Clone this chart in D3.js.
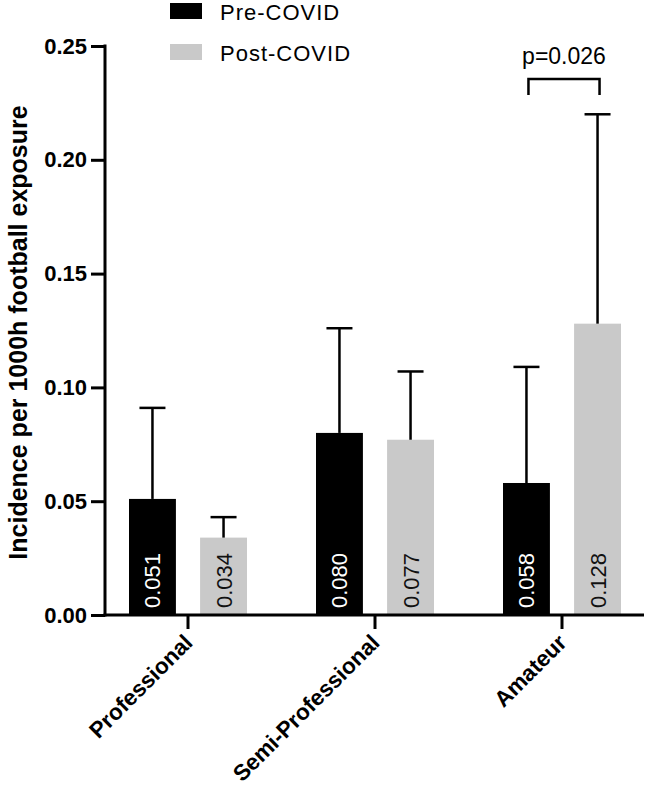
<!DOCTYPE html>
<html>
<head>
<meta charset="utf-8">
<script src="https://cdn.jsdelivr.net/npm/d3@7"></script>
<style>
  html, body { margin: 0; padding: 0; background: #fff; }
  svg { display: block; font-family: "Liberation Sans", Arial, Helvetica, sans-serif; }
</style>
</head>
<body>
<svg id="chart" width="646" height="787"></svg>
<script>
// ---- data ----
const categories = ["Professional", "Semi-Professional", "Amateur"];
const seriesNames = ["Pre-COVID", "Post-COVID"];
const preValues = [0.051, 0.080, 0.058];
const postValues = [0.034, 0.077, 0.128];
const preUpper = [0.091, 0.126, 0.109];
const postUpper = [0.043, 0.107, 0.220];
const valueLabels = [["0.051", "0.034"], ["0.080", "0.077"], ["0.058", "0.128"]];
const yTicks = [0, 0.05, 0.10, 0.15, 0.20, 0.25];
const pValueText = "p=0.026";
const yTitle = "Incidence per 1000h football exposure";

const colors = { "Pre-COVID": "#000000", "Post-COVID": "#c9c9c9" };
const labelColors = { "Pre-COVID": "#ffffff", "Post-COVID": "#111111" };

const rows = [];
categories.forEach((c, i) => {
  rows.push({ cat: c, series: "Pre-COVID", value: preValues[i], upper: preUpper[i], label: valueLabels[i][0] });
  rows.push({ cat: c, series: "Post-COVID", value: postValues[i], upper: postUpper[i], label: valueLabels[i][1] });
});

const svg = d3.select("#chart");
const axisX = 105, baseY = 615, topY = 46, rightX = 644;

const y = d3.scaleLinear().domain([0, 0.25]).range([baseY, topY]);
const x0 = d3.scaleBand().domain(categories).range([94.5, 655.5]).padding(0);
const x1 = d3.scaleBand().domain(seriesNames).range([34.5, 152.5]).paddingInner(0.34).paddingOuter(0);

const g = svg.append("g");

// bars
g.selectAll("rect.bar").data(rows).join("rect")
  .attr("class", "bar")
  .attr("x", d => x0(d.cat) + x1(d.series))
  .attr("width", x1.bandwidth())
  .attr("y", d => y(d.value))
  .attr("height", d => y(0) - y(d.value))
  .attr("fill", d => colors[d.series]);

// error bars (upper only)
const cx = d => x0(d.cat) + x1(d.series) + x1.bandwidth() / 2;
g.selectAll("line.err").data(rows).join("line")
  .attr("x1", cx).attr("x2", cx)
  .attr("y1", d => y(d.value)).attr("y2", d => y(d.upper))
  .attr("stroke", "#000").attr("stroke-width", 2.5);
g.selectAll("line.cap").data(rows).join("line")
  .attr("x1", d => cx(d) - 13).attr("x2", d => cx(d) + 13)
  .attr("y1", d => y(d.upper)).attr("y2", d => y(d.upper))
  .attr("stroke", "#000").attr("stroke-width", 2.5);

// value labels inside bars
g.selectAll("text.val").data(rows).join("text")
  .attr("transform", d => `translate(${cx(d) + 8},${baseY - 7}) rotate(-90)`)
  .attr("text-anchor", "start")
  .attr("font-size", 22)
  .attr("fill", d => labelColors[d.series])
  .text(d => d.label);

// y axis
const yAxis = d3.axisLeft(y).tickValues(yTicks).tickFormat(d3.format(".2f")).tickSize(14).tickSizeOuter(0).tickPadding(4);
const ya = svg.append("g").attr("transform", `translate(${axisX},0)`).call(yAxis);
ya.select(".domain").remove();
ya.selectAll(".tick line").attr("stroke", "#000").attr("stroke-width", 3);
ya.selectAll(".tick text").attr("font-size", 22).attr("font-weight", "bold").attr("fill", "#000")
  .attr("font-family", "'Liberation Sans', Arial, sans-serif");
svg.append("line").attr("x1", axisX).attr("x2", axisX).attr("y1", topY - 1.5).attr("y2", baseY + 1.5)
  .attr("stroke", "#000").attr("stroke-width", 3);

// x axis
svg.append("line").attr("x1", axisX - 1.5).attr("x2", rightX).attr("y1", baseY).attr("y2", baseY)
  .attr("stroke", "#000").attr("stroke-width", 3);
const xa = svg.append("g").attr("transform", `translate(0,${baseY})`)
  .call(d3.axisBottom(x0).tickSize(14).tickSizeOuter(0).tickFormat(""));
xa.select(".domain").remove();
xa.selectAll(".tick line").attr("stroke", "#000").attr("stroke-width", 3);

svg.selectAll("text.xlab").data(categories).join("text")
  .attr("transform", d => `translate(${x0(d) + x0.bandwidth() / 2 + 6},${baseY + 29}) rotate(-45)`)
  .attr("text-anchor", "end")
  .attr("font-size", 22.5).attr("font-weight", "bold")
  .text(d => d);

// y title
svg.append("text")
  .attr("transform", `translate(27,${(topY + baseY) / 2 + 2}) rotate(-90)`)
  .attr("text-anchor", "middle")
  .attr("font-size", 25).attr("font-weight", "bold")
  .text(yTitle);

// legend
const leg = svg.append("g");
seriesNames.forEach((s, i) => {
  leg.append("rect").attr("x", 170).attr("y", 3 + i * 41).attr("width", 32).attr("height", 16).attr("fill", colors[s]);
  leg.append("text").attr("x", 220).attr("y", 20 + i * 41).attr("font-size", 22)
    .attr("letter-spacing", 1).attr("fill", "#000").text(s);
});

// significance bracket (Amateur)
const ax1 = x0("Amateur") + x1("Pre-COVID") + x1.bandwidth() / 2 + 2;
const ax2 = x0("Amateur") + x1("Post-COVID") + x1.bandwidth() / 2 + 2;
const by = 79;
svg.append("path")
  .attr("d", `M${ax1},${by + 16}V${by}H${ax2}V${by + 16}`)
  .attr("fill", "none").attr("stroke", "#000").attr("stroke-width", 2.5);
svg.append("text").attr("x", (ax1 + ax2) / 2).attr("y", 64).attr("text-anchor", "middle")
  .attr("font-size", 23).attr("fill", "#000").text(pValueText);
</script>
</body>
</html>
